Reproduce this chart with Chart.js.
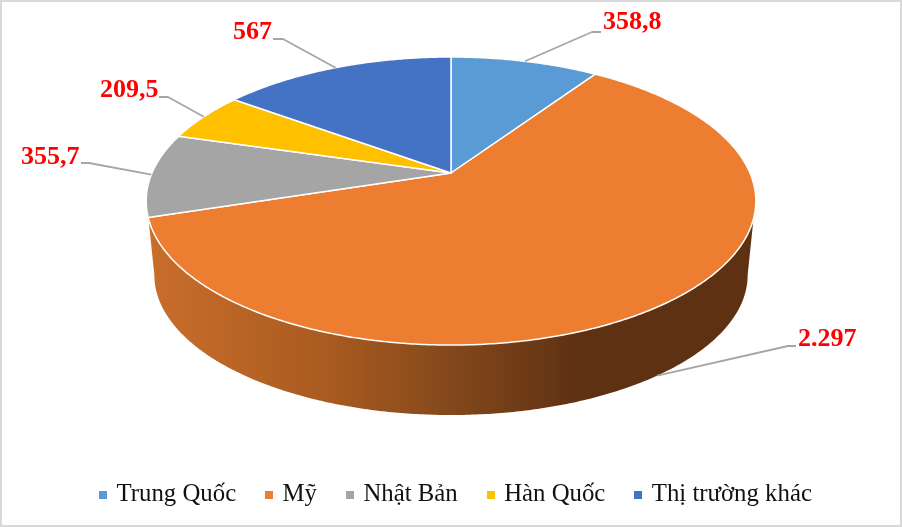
<!DOCTYPE html>
<html>
<head>
<meta charset="utf-8">
<script src="https://cdn.jsdelivr.net/npm/chart.js@4"></script>
<style>
html, body { margin: 0; padding: 0; background: #fff; overflow: hidden; }
canvas { display: block; }
</style>
</head>
<body>
<canvas id="myChart" width="902" height="527"></canvas>
<script>
// Chart data
const categories = ['Trung Quốc', 'Mỹ', 'Nhật Bản', 'Hàn Quốc', 'Thị trường khác'];
const values = [358.8, 2297, 355.7, 209.5, 567];
const valueLabels = ['358,8', '2.297', '355,7', '209,5', '567'];
const colors = ['#5B9BD5', '#ED7D31', '#A5A5A5', '#FFC000', '#4472C4'];

// Where each callout bends and where its text starts (same order as categories)
const calloutElbows = [[592, 32], [788, 346], [89, 163], [168, 97], [283, 39]];
const calloutEnds = [[601, 32], [796, 346], [81, 163], [159, 97], [273, 39]];
const labelAnchors = [[603, 29], [798, 346], [21, 164], [100, 97], [233, 39]];

// Perspective of the pie: top disc and the smaller bottom disc of the wall
const topDisc = { cx: 451, cy: 173, rx: 299, ry: 138.6 };
const bottomDisc = { cx: 451, cy: 247.8, rx: 291, ry: 134.7 };
const tilt = 0.1944;

const deg = Math.PI / 180;
const wallFrom = 18 * deg;
const wallTo = 162 * deg;
const silhouetteInset = Math.asin(tilt);

function project(disc, angle) {
    const w = 1 - tilt * Math.sin(angle);
    return [disc.cx + disc.rx * Math.cos(angle) / w, disc.cy + disc.ry * Math.sin(angle) / w];
}

function traceRim(ctx, disc, from, to) {
    const steps = Math.max(2, Math.ceil(Math.abs(to - from) / (0.5 * deg)));
    for (let i = 0; i <= steps; i++) {
        const p = project(disc, from + (to - from) * i / steps);
        ctx.lineTo(p[0], p[1]);
    }
}

function drawWall(ctx, arc) {
    const from = Math.max(arc.startAngle, wallFrom);
    const to = Math.min(arc.endAngle, wallTo);
    if (from >= to) return;
    const lowFrom = from === wallFrom ? silhouetteInset : from;
    const lowTo = to === wallTo ? Math.PI - silhouetteInset : to;

    const shade = ctx.createLinearGradient(149, 0, 756, 0);
    shade.addColorStop(0, '#C96E2B');
    shade.addColorStop(0.3, '#A85A20');
    shade.addColorStop(0.5, '#83481B');
    shade.addColorStop(0.71, '#5E3113');
    shade.addColorStop(1, '#5E3113');

    ctx.beginPath();
    traceRim(ctx, topDisc, from, to);
    traceRim(ctx, bottomDisc, lowTo, lowFrom);
    ctx.closePath();
    ctx.fillStyle = shade;
    ctx.fill();
}

function drawSlice(ctx, arc, color) {
    ctx.beginPath();
    ctx.moveTo(topDisc.cx, topDisc.cy);
    traceRim(ctx, topDisc, arc.startAngle, arc.endAngle);
    ctx.closePath();
    ctx.fillStyle = color;
    ctx.fill();
    ctx.strokeStyle = '#fff';
    ctx.lineWidth = 1.5;
    ctx.lineJoin = 'round';
    ctx.stroke();
}

function drawCallout(ctx, arc, i) {
    const mid = (arc.startAngle + arc.endAngle) / 2;
    const start = project(mid > wallFrom && mid < wallTo ? bottomDisc : topDisc, mid);
    ctx.beginPath();
    ctx.moveTo(start[0], start[1]);
    ctx.lineTo(calloutElbows[i][0], calloutElbows[i][1]);
    ctx.lineTo(calloutEnds[i][0], calloutEnds[i][1]);
    ctx.strokeStyle = '#A6A6A6';
    ctx.lineWidth = 1.8;
    ctx.stroke();

    ctx.fillStyle = '#FF0000';
    ctx.font = 'bold 26px "Liberation Serif"';
    ctx.textAlign = 'left';
    ctx.textBaseline = 'alphabetic';
    ctx.fillText(valueLabels[i], labelAnchors[i][0], labelAnchors[i][1]);
}

// The pie arcs keep their angles from Chart.js, this plugin draws them tilted
const tiltedPie = {
    id: 'tiltedPie',
    beforeDraw(chart) {
        const ctx = chart.ctx;
        ctx.save();
        ctx.fillStyle = '#fff';
        ctx.fillRect(0, 0, chart.width, chart.height);
        ctx.strokeStyle = '#D9D9D9';
        ctx.lineWidth = 2;
        ctx.strokeRect(1, 1, chart.width - 2, chart.height - 2);
        ctx.restore();
    },
    beforeDatasetDraw(chart, args) {
        const ctx = chart.ctx;
        const arcs = args.meta.data;
        ctx.save();
        arcs.forEach(arc => drawWall(ctx, arc));
        arcs.forEach((arc, i) => drawSlice(ctx, arc, colors[i]));
        arcs.forEach((arc, i) => drawCallout(ctx, arc, i));
        ctx.restore();
        return false;
    }
};

// Square legend marker, drawn wider than the layout box so the text sits close
function legendMarker(color) {
    const marker = document.createElement('canvas');
    marker.width = 8;
    marker.height = 8;
    const markerCtx = marker.getContext('2d');
    markerCtx.fillStyle = color;
    markerCtx.fillRect(0, 0, 8, 8);
    return marker;
}

new Chart(document.getElementById('myChart'), {
    type: 'pie',
    data: {
        labels: categories,
        datasets: [{ data: values, backgroundColor: colors }]
    },
    options: {
        responsive: false,
        animation: false,
        layout: { padding: { left: 12, bottom: 10 } },
        plugins: {
            tooltip: { enabled: false },
            legend: {
                position: 'bottom',
                labels: {
                    usePointStyle: true,
                    pointStyleWidth: 2,
                    padding: 32,
                    color: '#111',
                    font: { family: '"Liberation Serif"', size: 24.8 },
                    generateLabels: () => categories.map((text, i) => ({
                        text: text,
                        fontColor: '#111',
                        pointStyle: legendMarker(colors[i]),
                        index: i
                    }))
                }
            }
        }
    },
    plugins: [tiltedPie]
});
</script>
</body>
</html>
